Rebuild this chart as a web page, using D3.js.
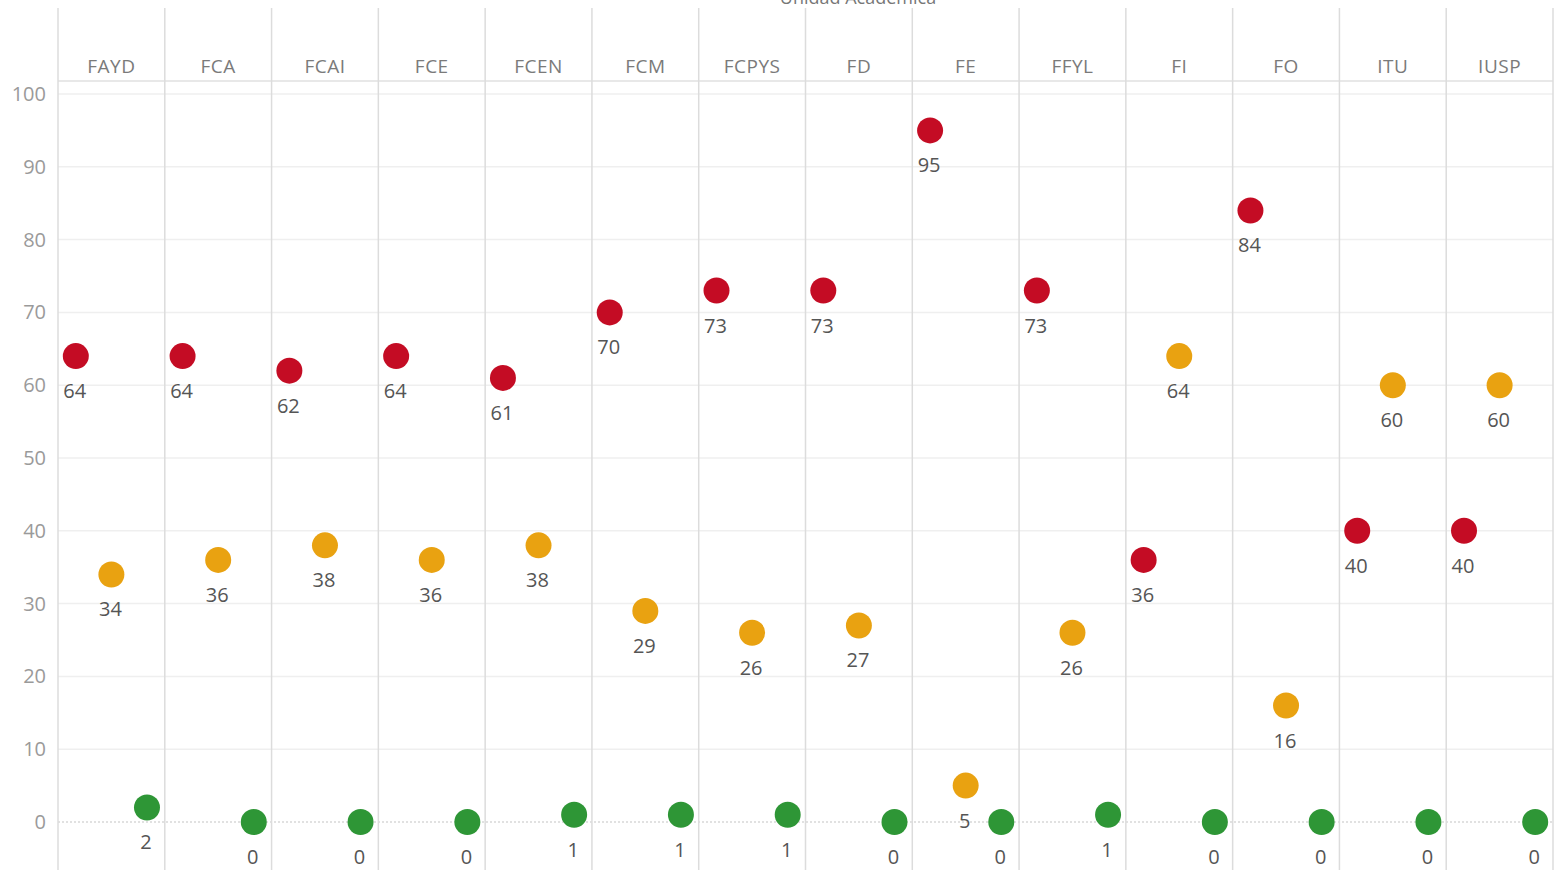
<!DOCTYPE html>
<html>
<head>
<meta charset="utf-8">
<script src="https://cdn.jsdelivr.net/npm/d3@7"></script>
<style>
  body { margin: 0; background: #fff; }
  text { font-family: "Open Sans", "Noto Sans", sans-serif; }
</style>
</head>
<body>
<div id="main"></div>
<script>
// Unidades académicas (columnas)
var unidades = ["FAYD", "FCA", "FCAI", "FCE", "FCEN", "FCM", "FCPYS", "FD", "FE", "FFYL", "FI", "FO", "ITU", "IUSP"];

// three series per column, left to right
var serieRoja     = [64, 64, 62, 64, 61, 70, 73, 73, 95, 73, 36, 84, 40, 40];
var serieAmarilla = [34, 36, 38, 36, 38, 29, 26, 27, 5, 26, 64, 16, 60, 60];
var serieVerde    = [2, 0, 0, 0, 1, 1, 1, 0, 0, 1, 0, 0, 0, 0];

var series = ["roja", "amarilla", "verde"];
var yTicks = [0, 10, 20, 30, 40, 50, 60, 70, 80, 90, 100];

var colores = { roja: "#c40c24", amarilla: "#e9a211", verde: "#2e9636" };

var width = 1557, height = 870;
var plotLeft = 58, plotRight = 1553, headerTop = 8, headerBottom = 81;

var svg = d3.select("#main").append("svg")
    .attr("width", width)
    .attr("height", height);

var x = d3.scaleBand()
    .domain(unidades)
    .range([plotLeft, plotRight]);

var xInner = d3.scaleBand()
    .domain(series)
    .range([0, x.bandwidth()]);

var y = d3.scaleLinear()
    .domain([0, 100])
    .range([822, 94]);

// rows of data
var rows = [];
unidades.forEach(function(u, i) {
    rows.push({ unidad: u, serie: "roja", value: serieRoja[i] });
    rows.push({ unidad: u, serie: "amarilla", value: serieAmarilla[i] });
    rows.push({ unidad: u, serie: "verde", value: serieVerde[i] });
});

// horizontal gridlines
svg.append("g")
    .selectAll("line.grid")
    .data(yTicks.filter(function(d) { return d !== 0; }))
    .enter().append("line")
    .attr("class", "grid")
    .attr("x1", plotLeft).attr("x2", plotRight)
    .attr("y1", function(d) { return y(d); })
    .attr("y2", function(d) { return y(d); })
    .attr("stroke", "#efefef")
    .attr("stroke-width", 1.5);

// zero line (dotted)
svg.append("line")
    .attr("x1", plotLeft).attr("x2", plotRight)
    .attr("y1", y(0)).attr("y2", y(0))
    .attr("stroke", "#c4c4c4")
    .attr("stroke-width", 1.2)
    .attr("stroke-dasharray", "2,2");

// header separator
svg.append("line")
    .attr("x1", plotLeft).attr("x2", plotRight)
    .attr("y1", headerBottom).attr("y2", headerBottom)
    .attr("stroke", "#e0e0e0")
    .attr("stroke-width", 1.5);

// column dividers
var dividers = unidades.map(function(u) { return x(u); }).concat([plotRight]);
svg.append("g")
    .selectAll("line.col")
    .data(dividers)
    .enter().append("line")
    .attr("class", "col")
    .attr("x1", function(d) { return d; })
    .attr("x2", function(d) { return d; })
    .attr("y1", headerTop).attr("y2", height)
    .attr("stroke", "#dcdcdc")
    .attr("stroke-width", 1.5);

// title (mostly cropped off at the top, as in the source)
svg.append("text")
    .attr("x", 858)
    .attr("y", 4)
    .attr("text-anchor", "middle")
    .attr("font-size", 18)
    .attr("fill", "#777")
    .text("Unidad Académica");

// column headers
svg.append("g")
    .selectAll("text.header")
    .data(unidades)
    .enter().append("text")
    .attr("class", "header")
    .attr("x", function(d) { return x(d) + x.bandwidth() / 2; })
    .attr("y", 73)
    .attr("text-anchor", "middle")
    .attr("font-size", 19)
    .attr("letter-spacing", 0.5)
    .attr("fill", "#7a7a7a")
    .text(function(d) { return d; });

// y axis labels
var yAxis = d3.axisLeft(y)
    .tickValues(yTicks)
    .tickSize(0)
    .tickPadding(12);

var yG = svg.append("g")
    .attr("transform", "translate(" + plotLeft + ",0)")
    .call(yAxis);
yG.select(".domain").remove();
yG.selectAll("text")
    .attr("font-family", "\"Open Sans\", sans-serif")
    .attr("font-size", 20)
    .attr("fill", "#9a9a9a");

// dots
svg.append("g")
    .selectAll("circle")
    .data(rows)
    .enter().append("circle")
    .attr("cx", function(d) { return x(d.unidad) + xInner(d.serie) + xInner.bandwidth() / 2; })
    .attr("cy", function(d) { return y(d.value); })
    .attr("r", 13)
    .attr("fill", function(d) { return colores[d.serie]; });

// value labels
svg.append("g")
    .selectAll("text.val")
    .data(rows)
    .enter().append("text")
    .attr("class", "val")
    .attr("x", function(d) { return x(d.unidad) + xInner(d.serie) + xInner.bandwidth() / 2 - 1; })
    .attr("y", function(d) { return y(d.value) + 42; })
    .attr("text-anchor", "middle")
    .attr("font-size", 20)
    .attr("fill", "#555")
    .text(function(d) { return d.value; });
</script>
</body>
</html>
